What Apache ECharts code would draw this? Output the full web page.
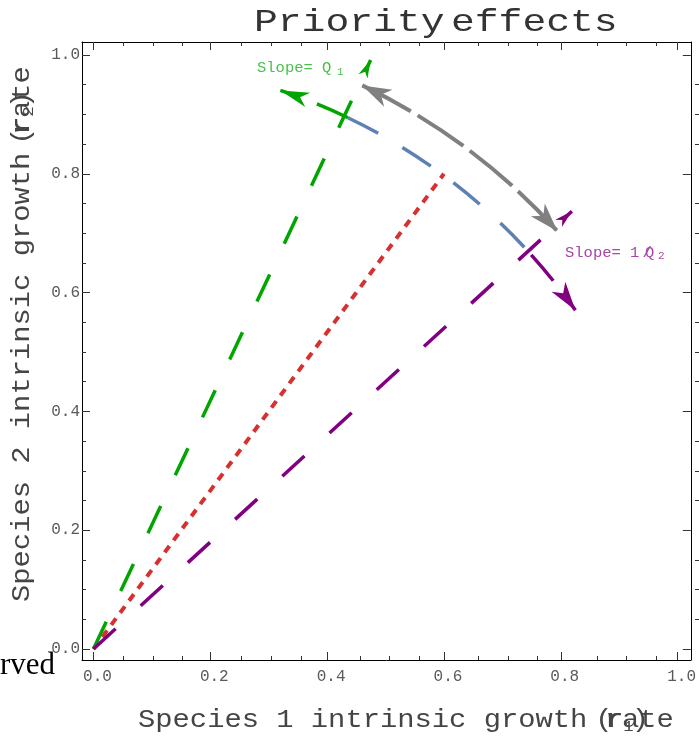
<!DOCTYPE html>
<html><head><meta charset="utf-8">
<script src="https://cdn.jsdelivr.net/npm/echarts@6/dist/echarts.min.js"></script>
<style>html,body{margin:0;padding:0;background:#fff;}#c{width:699px;height:736px;}</style>
</head><body><div id="c"></div>
<script>
// ---- data ----
const xRange = [-0.0196, 1.0226];
const yRange = [-0.0185, 1.0219];
const majorTicks = [0, 0.2, 0.4, 0.6, 0.8, 1.0];
const tickLabels = ['0.0', '0.2', '0.4', '0.6', '0.8', '1.0'];
const minorTicks = [0.05, 0.1, 0.15, 0.25, 0.3, 0.35, 0.45, 0.5, 0.55, 0.65, 0.7, 0.75, 0.85, 0.9, 0.95];
const origin = [0, 0];
const slopeQ1End = [0.4745, 0.9916];
const slopeQ2End = [0.819, 0.737];
const observedEnd = [0.6, 0.8];
const arcRadius = [1.0, 1.0, 1.0, 1.06];
const arcFrom = [64.4, 64.4, 42.0, 64.5];
const arcTo = [71.5, 42.0, 35.1, 42.0];
const arcArrowStart = [0, 0, 0, 1];
const arcArrowEnd = [1, 0, 1, 1];

// ---- styles ----
const GREEN = '#00A500', PURPLE = '#800080', BLUE = '#5E81B5', GRAY = '#808080', RED = '#D63030';
const arcColors = [GREEN, BLUE, PURPLE, GRAY];
const arcWidths = [3.5, 3.5, 3.5, 4];
const arcDash = [[34, 28], [34, 28], [34, 28], [55, 8]];
const arcHeadW = [7.5, 0, 8.5, 9.5];
const MONO = '"Liberation Mono", "DejaVu Sans Mono", monospace';

const chart = echarts.init(document.getElementById('c'), null, {renderer: 'canvas'});

function xAxis(grid, pos, ticks, len, labels, line) {
  return {
    type: 'value', gridIndex: grid, position: pos, min: xRange[0], max: xRange[1],
    axisLine: {show: line, onZero: false, lineStyle: {color: '#000', width: 1}},
    axisTick: {show: true, inside: true, length: len, customValues: ticks, lineStyle: {color: '#333', width: 1}},
    axisLabel: labels ? {show: true, customValues: majorTicks, margin: 9, padding: [0, 0, 0, 8],
      formatter: v => tickLabels[majorTicks.findIndex(t => Math.abs(t - v) < 1e-9)],
      fontFamily: MONO, fontSize: 16, color: '#5a5a5a'} : {show: false},
    splitLine: {show: false}
  };
}
function yAxis(grid, pos, ticks, len, labels, line) {
  return {
    type: 'value', gridIndex: grid, position: pos, min: yRange[0], max: yRange[1],
    axisLine: {show: line, onZero: false, lineStyle: {color: '#000', width: 1}},
    axisTick: {show: true, inside: true, length: len, customValues: ticks, lineStyle: {color: '#333', width: 1}},
    axisLabel: labels ? {show: true, customValues: majorTicks, margin: 2,
      formatter: v => tickLabels[majorTicks.findIndex(t => Math.abs(t - v) < 1e-9)],
      fontFamily: MONO, fontSize: 16, color: '#5a5a5a'} : {show: false},
    splitLine: {show: false}
  };
}

function arcPt(c, r, deg) {
  const a = deg * Math.PI / 180;
  return [c[0] + r * Math.cos(a), c[1] - r * Math.sin(a)];
}
function head(tip, from, L, w, notch) {
  let dx = tip[0] - from[0], dy = tip[1] - from[1];
  const n = Math.hypot(dx, dy); dx /= n; dy /= n;
  const px = -dy, py = dx;
  return [tip,
    [tip[0] - L * dx + w * px, tip[1] - L * dy + w * py],
    [tip[0] - notch * L * dx, tip[1] - notch * L * dy],
    [tip[0] - L * dx - w * px, tip[1] - L * dy - w * py]];
}

function renderArc(params, api) {
  const i = params.dataIndex;
  const c = api.coord([api.value(0), api.value(1)]);
  const sz = api.size([1, 1]);
  const k = (sz[0] + sz[1]) / 2;
  const r = api.value(2) * k;
  const a0 = api.value(3), a1 = api.value(4);
  const children = [{
    type: 'arc',
    shape: {cx: c[0], cy: c[1], r: r, startAngle: -a0 * Math.PI / 180, endAngle: -a1 * Math.PI / 180, clockwise: a1 < a0},
    style: {stroke: arcColors[i], lineWidth: arcWidths[i], lineDash: arcDash[i], fill: null, lineCap: 'butt'}
  }];
  const L = 29;
  const addHead = (tipDeg, otherDeg) => {
    const s = tipDeg > otherDeg ? 1 : -1;
    const tip = arcPt(c, r, tipDeg);
    const back = arcPt(c, r, tipDeg - s * (L * 0.5 / r) * 180 / Math.PI);
    children.push({type: 'polygon', shape: {points: head(tip, back, L, arcHeadW[i], 0.72)},
      style: {fill: arcColors[i], stroke: null}});
  };
  if (api.value(6)) addHead(a1, a0);
  if (api.value(5)) addHead(a0, a1);
  return {type: 'group', children: children};
}

const lineHeadColors = [GREEN, PURPLE];
function renderLineHead(params, api) {
  const p0 = api.coord([api.value(0), api.value(1)]);
  const p1 = api.coord([api.value(2), api.value(3)]);
  return {type: 'polygon', shape: {points: head(p1, p0, 18, 5, 0.72)},
    style: {fill: lineHeadColors[params.dataIndex], stroke: null}};
}

function txt(x, y, text, size, color, opts) {
  opts = opts || {};
  return {
    type: 'text', x: x, y: y, scaleX: opts.sx || 1, scaleY: 1, rotation: opts.rot || 0,
    style: {text: text, font: size + 'px ' + (opts.family || MONO), fill: color,
      textAlign: opts.align || 'left', textVerticalAlign: 'middle', verticalAlign: 'middle'},
    silent: true, z: 100
  };
}

const LG = '#4BBF4B', LP = '#A647A6';
const TS = 1.152;
const TC = '#454545';
const graphics = [
  txt(254, 23, 'Priority', 32, '#333', {sx: 1.24}),
  txt(451, 23, 'effects', 32, '#333', {sx: 1.24}),
  txt(138, 720, 'Species 1 intrinsic growth rate', 25, TC, {sx: TS}),
  txt(604, 720, '(', 25, TC, {sx: TS, align: 'center'}),
  txt(615, 720, 'r', 25, TC, {sx: TS, align: 'center'}),
  txt(628.5, 727, '1', 15, TC, {sx: TS, align: 'center'}),
  txt(640.5, 720, ')', 25, TC, {sx: TS, align: 'center'}),
  txt(22.5, 602, 'Species 2 intrinsic growth rate', 25, TC, {sx: TS, rot: Math.PI / 2}),
  txt(22.5, 136, '(', 25, TC, {sx: TS, rot: Math.PI / 2, align: 'center'}),
  txt(22.5, 125, 'r', 25, TC, {sx: TS, rot: Math.PI / 2, align: 'center'}),
  txt(29.5, 111.5, '2', 15, TC, {sx: TS, rot: Math.PI / 2, align: 'center'}),
  txt(22.5, 99.5, ')', 25, TC, {sx: TS, rot: Math.PI / 2, align: 'center'}),
  txt(55, 666, 'Observed', 31, '#000', {family: '"Liberation Serif", "DejaVu Serif", serif', align: 'right'}),
  txt(257, 68, 'Slope= Q', 15.5, LG),
  txt(337, 72, '1', 11, LG),
  txt(565, 252.5, 'Slope= 1', 15.5, LP),
  txt(642.5, 252.5, '/', 15.5, LP),
  txt(645, 252.5, 'Q', 15.5, LP),
  txt(658, 256, '2', 11, LP)
];

const G = {left: 82, top: 42, width: 618, height: 618};
const option = {
  animation: false,
  backgroundColor: '#fff',
  grid: [Object.assign({}, G), Object.assign({}, G)],
  xAxis: [
    xAxis(0, 'bottom', majorTicks, 8, true, true),
    xAxis(0, 'top', majorTicks, 8, false, true),
    xAxis(1, 'bottom', minorTicks, 4, false, false),
    xAxis(1, 'top', minorTicks, 4, false, false)
  ],
  yAxis: [
    yAxis(0, 'left', majorTicks, 8, true, true),
    yAxis(0, 'right', majorTicks, 8, false, true),
    yAxis(1, 'left', minorTicks, 4, false, false),
    yAxis(1, 'right', minorTicks, 4, false, false)
  ],
  series: [
    {
      type: 'custom', xAxisIndex: 0, yAxisIndex: 0, clip: false,
      encode: {x: 0, y: 1},
      data: arcRadius.map((r, i) => [origin[0], origin[1], r, arcFrom[i], arcTo[i], arcArrowStart[i], arcArrowEnd[i]]),
      renderItem: renderArc, z: 2
    },
    {
      type: 'line', xAxisIndex: 0, yAxisIndex: 0, data: [origin, observedEnd], symbol: 'none',
      lineStyle: {color: RED, width: 4, type: [8, 7], cap: 'butt'}, z: 3
    },
    {
      type: 'line', xAxisIndex: 0, yAxisIndex: 0, data: [origin, slopeQ1End], symbol: 'none',
      lineStyle: {color: GREEN, width: 3.5, type: [30, 34], cap: 'butt'}, z: 4
    },
    {
      type: 'line', xAxisIndex: 0, yAxisIndex: 0, data: [origin, slopeQ2End], symbol: 'none',
      lineStyle: {color: PURPLE, width: 3.5, type: [30, 34], cap: 'butt'}, z: 4
    },
    {
      type: 'custom', xAxisIndex: 0, yAxisIndex: 0, clip: false,
      encode: {x: 0, y: 1},
      data: [[origin[0], origin[1], slopeQ1End[0], slopeQ1End[1]], [origin[0], origin[1], slopeQ2End[0], slopeQ2End[1]]],
      renderItem: renderLineHead, z: 5
    }
  ],
  graphic: graphics
};
chart.setOption(option);
</script></body></html>
